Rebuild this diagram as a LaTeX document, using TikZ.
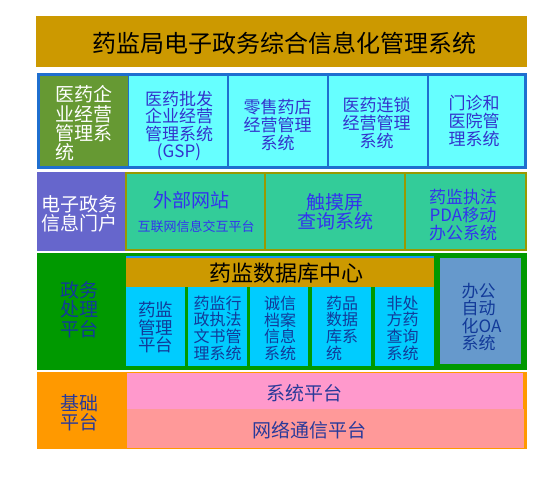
\documentclass[tikz,border=0pt]{standalone}
\usepackage{fontspec}
\setmainfont{Noto Sans CJK SC}
\definecolor{titlegold}{HTML}{CC9900}
\definecolor{cyanA}{HTML}{66FFFF}
\definecolor{blueA}{HTML}{1F6FCF}
\definecolor{greenA}{HTML}{669933}
\definecolor{textA}{HTML}{3333CC}
\definecolor{purpleA}{HTML}{6666CC}
\definecolor{tealA}{HTML}{33CC99}
\definecolor{oliveA}{HTML}{999900}
\definecolor{textB}{HTML}{3333EE}
\definecolor{greenB}{HTML}{009900}
\definecolor{stripB}{HTML}{1199FF}
\definecolor{cyanB}{HTML}{00CCFF}
\definecolor{oaB}{HTML}{6699CC}
\definecolor{textC}{HTML}{123A99}
\definecolor{orangeD}{HTML}{FF9900}
\definecolor{pinkD}{HTML}{FF99CC}
\definecolor{salmonD}{HTML}{FF9999}
\definecolor{textD}{HTML}{2A3A99}
\newcommand{\fsTitle}{\fontsize{24}{26}\selectfont}
\newcommand{\fsHead}{\fontsize{22}{24}\selectfont}
\newcommand{\fsBig}{\fontsize{19}{19.3}\selectfont}
\newcommand{\fsMid}{\fontsize{17}{17.6}\selectfont}
\newcommand{\fsMidB}{\fontsize{17.5}{17.6}\selectfont}
\newcommand{\fsSm}{\fontsize{16}{16.7}\selectfont}
\newcommand{\fsTiny}{\fontsize{13}{14}\selectfont}
\begin{document}
\begin{tikzpicture}[x=1pt,y=-1pt,
  box/.style={rectangle, inner sep=0pt, outer sep=0pt},
  txt/.style={inner sep=0pt, outer sep=0pt, align=center},
  txtl/.style={inner sep=0pt, outer sep=0pt, align=left}]
\useasboundingbox (0,0) rectangle (553,489);
\fill[white] (0,0) rectangle (553,489);

% title
\node[box, fill=titlegold, minimum width=491pt, minimum height=51pt] (title) at (281.5,41.5) {};
\node[txt, font=\fsTitle, text=black] (titletext) at (284,43) {药监局电子政务综合信息化管理系统};

% row 1
\node[box, fill=cyanA, draw=blueA, line width=2pt, minimum width=100pt, minimum height=92pt] (c11) at (178,121) {};
\node[box, fill=cyanA, draw=blueA, line width=2pt, minimum width=100pt, minimum height=92pt] (c12) at (278,121) {};
\node[box, fill=cyanA, draw=blueA, line width=2pt, minimum width=100pt, minimum height=92pt] (c13) at (378,121) {};
\node[box, fill=cyanA, draw=blueA, line width=2pt, minimum width=98pt, minimum height=92pt] (c14) at (477,121) {};
\node[box, fill=greenA, minimum width=88pt, minimum height=91pt] (r1head) at (83.5,121) {};
\node[box, draw=blueA, line width=3pt, minimum width=487pt, minimum height=93pt] (r1) at (282,121) {};
\node[txtl, font=\fsBig, text=white] (r1headtext) at (83.5,123.5) {医药企\\业经营\\管理系\\统};
\node[txt, font=\fsMid, text=textA] (t11) at (179,126) {医药批发\\企业经营\\管理系统\\(GSP)};
\node[txt, font=\fsMid, text=textA] (t12) at (277.5,125) {零售药店\\经营管理\\系统};
\node[txt, font=\fsMid, text=textA] (t13) at (376.5,123) {医药连锁\\经营管理\\系统};
\node[txt, font=\fsMid, text=textA] (t14) at (474,121) {门诊和\\医院管\\理系统};

% row 2
\node[box, fill=purpleA, minimum width=88pt, minimum height=79pt] (r2head) at (81,211.5) {};
\node[box, fill=tealA, draw=oliveA, line width=2pt, minimum width=139pt, minimum height=77pt] (c21) at (195.5,211.5) {};
\node[box, fill=tealA, draw=oliveA, line width=2pt, minimum width=140pt, minimum height=77pt] (c22) at (335,211.5) {};
\node[box, fill=tealA, draw=oliveA, line width=2pt, minimum width=121pt, minimum height=77pt] (c23) at (465.5,211.5) {};
\node[txt, font=\fsBig, text=white] (r2headtext) at (79.5,213.5) {电子政务\\信息门户};
\node[txt, font=\fsBig, text=textB] (t21a) at (191,200) {外部网站};
\node[txt, font=\fsTiny, text=textB] (t21b) at (196,227) {互联网信息交互平台};
\node[txt, font=\fsBig, text=textB] (t22) at (335,212) {触摸屏\\查询系统};
\node[txt, font=\fsMid, text=textB] (t23) at (463,215) {药监执法\\PDA移动\\办公系统};

% row 3
\node[box, fill=greenB, minimum width=490pt, minimum height=117pt] (r3) at (282,311.5) {};
\node[box, fill=stripB, minimum width=308pt, minimum height=31pt] (dbstrip) at (280,271.5) {};
\node[box, fill=titlegold, minimum width=308pt, minimum height=29pt] (dbhead) at (280,272.5) {};
\node[box, fill=cyanB, minimum width=59pt, minimum height=79pt] (s1) at (155.5,326.5) {};
\node[box, fill=cyanB, minimum width=59pt, minimum height=79pt] (s2) at (217.5,326.5) {};
\node[box, fill=cyanB, minimum width=58pt, minimum height=79pt] (s3) at (279,326.5) {};
\node[box, fill=cyanB, minimum width=59pt, minimum height=79pt] (s4) at (341.5,326.5) {};
\node[box, fill=cyanB, minimum width=59pt, minimum height=79pt] (s5) at (404.5,326.5) {};
\node[box, fill=oaB, minimum width=81pt, minimum height=106pt] (oa) at (480.5,311) {};
\node[txt, font=\fsHead, text=black] (dbtext) at (286.5,273) {药监数据库中心};
\node[txt, font=\fsBig, text=textC] (r3headtext) at (79.5,309.5) {政务\\处理\\平台};
\node[txt, font=\fsMidB, text=textC] (s1text) at (155.5,327.5) {药监\\管理\\平台};
\node[txt, font=\fsSm, text=textC] (s2text) at (217.5,328) {药监行\\政执法\\文书管\\理系统};
\node[txt, font=\fsSm, text=textC] (s3text) at (280,328.5) {诚信\\档案\\信息\\系统};
\node[txtl, font=\fsSm, text=textC] (s4text) at (342,328) {药品\\数据\\库系\\统};
\node[txt, font=\fsSm, text=textC] (s5text) at (402.5,328) {非处\\方药\\查询\\系统};
\node[txtl, font=\fsMid, text=textC] (oatext) at (481.5,317) {办公\\自动\\化OA\\系统};

% row 4
\node[box, fill=orangeD, minimum width=490pt, minimum height=77pt] (r4) at (282,410.5) {};
\node[box, fill=pinkD, minimum width=396pt, minimum height=36pt] (sys) at (325,391) {};
\node[box, fill=salmonD, minimum width=397pt, minimum height=39pt] (net) at (325.5,428.5) {};
\node[txt, font=\fsBig, text=textD] (r4headtext) at (79.5,413) {基础\\平台};
\node[txt, font=\fsBig, text=textD] (systext) at (304.5,393) {系统平台};
\node[txt, font=\fsBig, text=textD] (nettext) at (309.5,430) {网络通信平台};
\end{tikzpicture}
\end{document}
